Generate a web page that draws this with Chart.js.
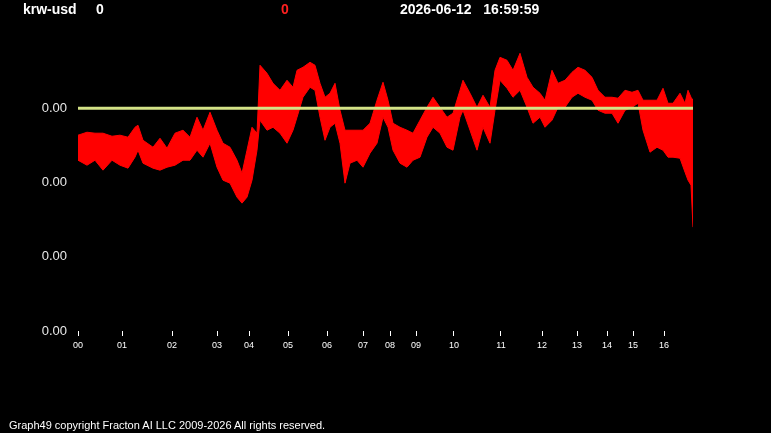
<!DOCTYPE html>
<html>
<head>
<meta charset="utf-8">
<script src="https://cdn.jsdelivr.net/npm/chart.js"></script>
<style>
  html, body { margin:0; padding:0; background:#000; }
  #wrap { position:relative; width:771px; height:433px; background:#000; overflow:hidden; }
  canvas { position:absolute; left:0; top:0; }
  .t { position:absolute; font-family:"Liberation Sans", Arial, sans-serif; white-space:pre; color:#fff; }
  .hb { font-weight:bold; font-size:14px; top:1px; }
  #foot { font-size:11px; left:9px; top:419px; letter-spacing:0px; }
</style>
</head>
<body>
<div id="wrap">
  <canvas id="c" width="771" height="433"></canvas>
  <div class="t hb" style="left:23px;">krw-usd</div>
  <div class="t hb" style="left:96px;">0</div>
  <div class="t hb" style="left:281px;color:#ff2020;">0</div>
  <div class="t hb" style="left:400px;">2026-06-12   16:59:59</div>
  <div class="t" id="foot">Graph49 copyright Fracton AI LLC 2009-2026 All rights reserved.</div>
</div>
<script>
// session time index of each sample
const sampleIndex = [0,9,17,25,34,42,50,57,60,65,75,82,89,97,105,112,119,125,132,139,145,152,159,164,169,174,179,182,189,195,202,209,215,219,225,232,237,242,247,252,257,262,267,272,279,285,292,299,305,310,315,322,329,335,342,349,355,362,369,375,382,385,392,399,405,412,417,422,429,435,442,449,455,462,467,474,480,487,494,500,507,514,520,527,534,540,547,554,560,565,572,579,585,590,595,602,607,610,613,615];
// upper envelope of price
const highValues = [0.00072637,0.00072677,0.00072664,0.00072664,0.00072623,0.00072637,0.00072610,0.00072744,0.00072771,0.00072569,0.00072475,0.00072596,0.00072462,0.00072664,0.00072704,0.00072610,0.00072879,0.00072704,0.00072946,0.00072704,0.00072529,0.00072475,0.00072300,0.00072125,0.00072435,0.00072744,0.00072664,0.00073579,0.00073471,0.00073336,0.00073242,0.00073377,0.00073283,0.00073511,0.00073552,0.00073619,0.00073579,0.00073336,0.00073148,0.00073202,0.00073336,0.00072973,0.00072704,0.00072704,0.00072704,0.00072704,0.00072798,0.00073108,0.00073350,0.00073108,0.00072798,0.00072744,0.00072704,0.00072664,0.00072839,0.00073013,0.00073148,0.00073013,0.00072879,0.00072933,0.00073242,0.00073377,0.00073202,0.00073013,0.00073175,0.00073013,0.00073511,0.00073686,0.00073646,0.00073511,0.00073740,0.00073417,0.00073283,0.00073202,0.00073108,0.00073511,0.00073336,0.00073377,0.00073484,0.00073552,0.00073511,0.00073417,0.00073242,0.00073148,0.00073148,0.00073135,0.00073242,0.00073215,0.00073242,0.00073108,0.00073108,0.00073108,0.00073269,0.00073067,0.00073067,0.00073202,0.00073067,0.00073242,0.00073148,0.00073108];
// lower envelope of price
const lowValues = [0.00072300,0.00072233,0.00072300,0.00072166,0.00072300,0.00072233,0.00072193,0.00072341,0.00072435,0.00072260,0.00072193,0.00072166,0.00072206,0.00072233,0.00072300,0.00072300,0.00072435,0.00072341,0.00072529,0.00072206,0.00072031,0.00071991,0.00071803,0.00071722,0.00071803,0.00072031,0.00072435,0.00072839,0.00072704,0.00072744,0.00072664,0.00072529,0.00072704,0.00072879,0.00073148,0.00073283,0.00073242,0.00072879,0.00072569,0.00072744,0.00072798,0.00072529,0.00071991,0.00072260,0.00072300,0.00072206,0.00072395,0.00072529,0.00072879,0.00072744,0.00072435,0.00072260,0.00072206,0.00072300,0.00072341,0.00072610,0.00072744,0.00072664,0.00072475,0.00072435,0.00072879,0.00072973,0.00072704,0.00072435,0.00072744,0.00072529,0.00072973,0.00073377,0.00073269,0.00073148,0.00073242,0.00073013,0.00072798,0.00072879,0.00072744,0.00072839,0.00073013,0.00073013,0.00073148,0.00073202,0.00073148,0.00073108,0.00072973,0.00072933,0.00072933,0.00072798,0.00072973,0.00073013,0.00073067,0.00072704,0.00072408,0.00072475,0.00072435,0.00072341,0.00072341,0.00072327,0.00072139,0.00072031,0.00071964,0.00071399];
// previous close reference
const refValue = 0.00073;
// x tick labels (hour markers) and their session index
const xTickLabels = ["00","01","02","03","04","05","06","07","08","09","10","11","12","13","14","15","16"];
const xTickIndex = [0,44,94,139,171,210,249,285,312,338,376,423,464,499,529,555,586];
const yTickValues = [0.0007,0.00071,0.00072,0.00073];
const xMin = 0, xMax = 615, yMin = 0.0007, yMax = 0.00074;

const highPts = sampleIndex.map((x,i)=>({x, y: highValues[i]}));
const lowPts = sampleIndex.map((x,i)=>({x, y: lowValues[i]}));
const refPts = [{x:xMin, y:refValue},{x:xMax, y:refValue}];

new Chart(document.getElementById('c'), {
  type: 'line',
  data: {
    datasets: [
      { data: refPts, borderColor: 'rgb(212,226,135)', borderWidth: 3, pointRadius: 0, fill: false },
      { data: highPts, borderColor: '#ff0000', backgroundColor: '#ff0000', borderWidth: 1, pointRadius: 0, fill: '+1', tension: 0 },
      { data: lowPts, borderColor: '#ff0000', borderWidth: 1, pointRadius: 0, fill: false, tension: 0 }
    ]
  },
  options: {
    responsive: false,
    animation: false,
    devicePixelRatio: 1,
    layout: { padding: { top: 34, right: 78, bottom: 0, left: 0 } },
    plugins: { legend: { display: false }, tooltip: { enabled: false } },
    scales: {
      x: {
        type: 'linear', min: xMin, max: xMax,
        afterBuildTicks: s => { s.ticks = xTickIndex.map(v => ({ value: v })); },
        afterFit: s => { s.height = 102; },
        ticks: {
          autoSkip: false, maxRotation: 0, padding: 4,
          color: '#ffffff', font: { family: 'Liberation Sans', size: 9 },
          callback: (v) => { const k = xTickIndex.indexOf(v); return k >= 0 ? xTickLabels[k] : ''; }
        },
        grid: { display: true, drawOnChartArea: false, drawTicks: true, tickLength: 5, color: '#ffffff', lineWidth: 1 },
        border: { display: false }
      },
      y: {
        type: 'linear', min: yMin, max: yMax,
        afterBuildTicks: s => { s.ticks = yTickValues.map(v => ({ value: v })); },
        afterFit: s => { s.width = 78; },
        ticks: {
          padding: 11, color: '#e8e8e8', font: { family: 'Liberation Sans', size: 13 },
          callback: v => Number(v).toFixed(2)
        },
        grid: { display: false, drawTicks: false },
        border: { display: false }
      }
    }
  }
});
</script>
</body>
</html>
